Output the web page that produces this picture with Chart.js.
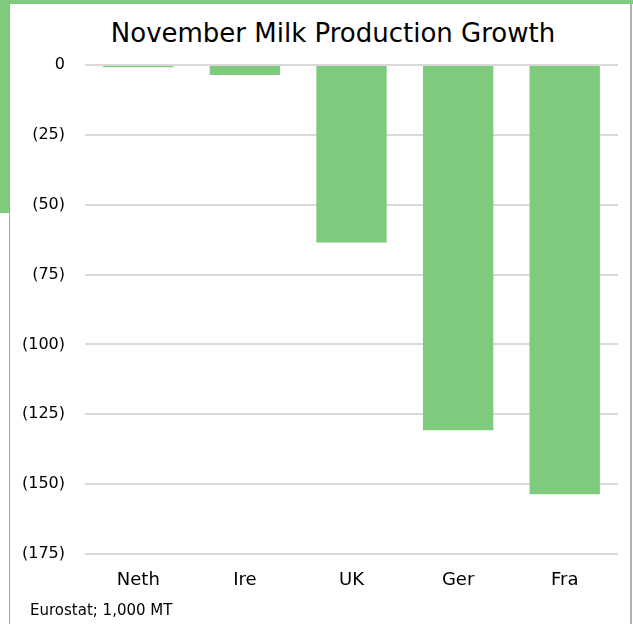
<!DOCTYPE html>
<html>
<head>
<meta charset="utf-8">
<script src="https://cdn.jsdelivr.net/npm/chart.js@4"></script>
<style>
    html, body { margin: 0; padding: 0; background: #ffffff; }
    #wrap { position: relative; width: 633px; height: 624px; overflow: hidden; }
    .band { position: absolute; background: #7fcb7e; }
    #panel { position: absolute; left: 9px; top: 4px; width: 620px; height: 630px;
             border-left: 1px solid #a6a6a6; border-right: 2px solid #b0b0b0; background: #ffffff; }
    #chartBox { position: absolute; left: 0; top: 0; width: 633px; height: 624px; }
    #title { position: absolute; left: 0; top: 17px; width: 666px; text-align: center;
             font: 26px "DejaVu Sans", sans-serif; line-height: 32px; color: #000; }
    #source { position: absolute; left: 30px; top: 601px; font: 15px "DejaVu Sans", sans-serif; color: #000; }
</style>
</head>
<body>
<div id="wrap">
    <div class="band" style="left:0;top:0;width:633px;height:4px"></div>
    <div class="band" style="left:0;top:0;width:9px;height:213px"></div>
    <div id="panel"></div>
    <div id="title">November Milk Production Growth</div>
    <div id="chartBox"><canvas id="milkChart" width="633" height="624"></canvas></div>
    <div id="source">Eurostat; 1,000 MT</div>
</div>
<script>
// November milk production growth, 1,000 MT
const countries = ['Neth', 'Ire', 'UK', 'Ger', 'Fra'];
const growth = [-0.8, -3.6, -63.5, -130.7, -153.6];
const yTicks = [0, -25, -50, -75, -100, -125, -150, -175];

const barGreen = '#7fcb7e';
const fontFamily = '"DejaVu Sans", sans-serif';

const ctx = document.getElementById('milkChart').getContext('2d');

const milkChart = new Chart(ctx, {
    type: 'bar',
    data: {
        labels: countries,
        datasets: [{
            label: 'Growth',
            data: growth,
            backgroundColor: barGreen,
            borderWidth: 0,
            barPercentage: 0.66,
            categoryPercentage: 1.0
        }]
    },
    options: {
        responsive: false,
        animation: false,
        layout: {
            padding: { left: 10, right: 15, top: 65, bottom: 0 }
        },
        plugins: {
            legend: { display: false },
            tooltip: { enabled: false },
            title: { display: false }
        },
        scales: {
            x: {
                grid: { display: false },
                border: { display: false },
                ticks: {
                    color: '#000000',
                    padding: 8,
                    font: { family: fontFamily, size: 18 }
                },
                afterFit: (scale) => { scale.height = 70; }
            },
            y: {
                min: yTicks[yTicks.length - 1],
                max: yTicks[0],
                afterBuildTicks: (scale) => {
                    scale.ticks = yTicks.map(v => ({ value: v }));
                },
                grid: {
                    color: '#d9d9d9',
                    lineWidth: 2,
                    drawTicks: false
                },
                border: { display: false },
                ticks: {
                    color: '#000000',
                    padding: 20,
                    font: { family: fontFamily, size: 16 },
                    callback: (v) => v < 0 ? '(' + Math.abs(v) + ')' : String(v)
                },
                afterFit: (scale) => { scale.width = 75; }
            }
        }
    }
});
</script>
</body>
</html>
